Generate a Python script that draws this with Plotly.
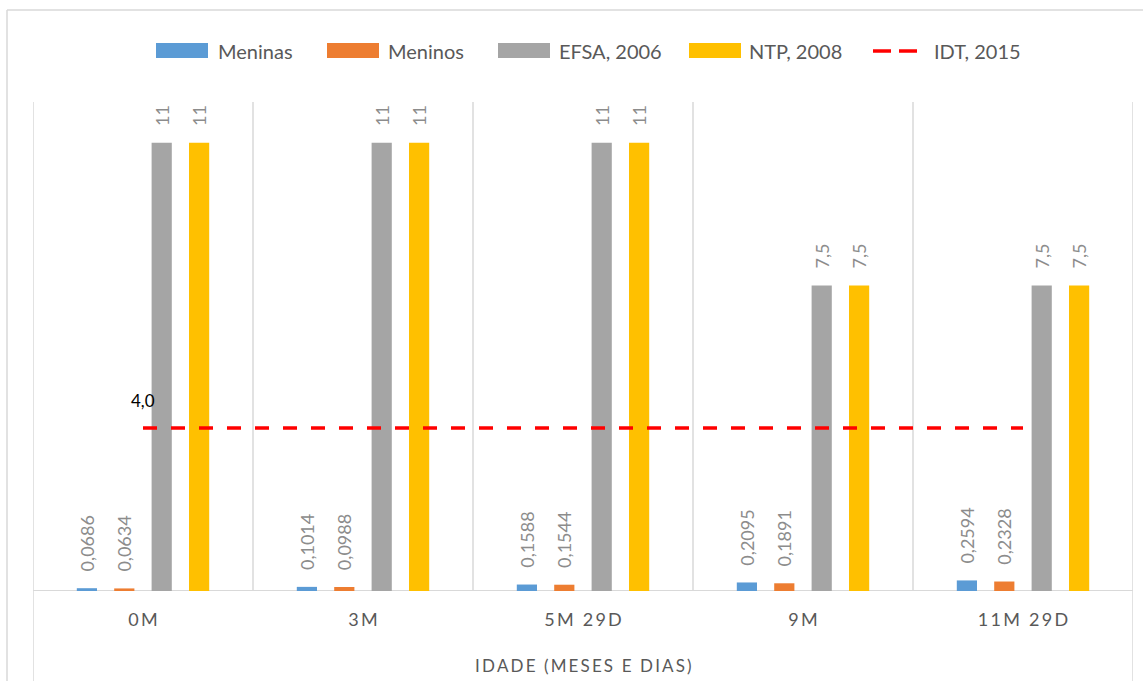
import plotly.graph_objects as go

# Age groups (months and days)
categories = ["0M", "3M", "5M 29D", "9M", "11M 29D"]

# Series values
meninas = [0.0686, 0.1014, 0.1588, 0.2095, 0.2594]
meninos = [0.0634, 0.0988, 0.1544, 0.1891, 0.2328]
efsa_2006 = [11, 11, 11, 7.5, 7.5]
ntp_2008 = [11, 11, 11, 7.5, 7.5]
idt_2015 = [4.0, 4.0, 4.0, 4.0, 4.0]

series_names = ["Meninas", "Meninos", "EFSA, 2006", "NTP, 2008", "IDT, 2015"]
axis_title = "IDADE (MESES E DIAS)"

BLUE, ORANGE, GRAY, GOLD, RED = "#5B9BD5", "#ED7D31", "#A5A5A5", "#FFC000", "#FF0000"
TEXT = "#595959"
LINE = "#D9D9D9"
FONT = "Lato"
THIN = "\u2009"
NBSP = "\u00a0"


def pt_number(v):
    return f"{v:g}".replace(".", ",")


def spaced(s):
    return THIN.join(s)


fig = go.Figure()

for name, vals, color in zip(series_names[:4], [meninas, meninos, efsa_2006, ntp_2008],
                             [BLUE, ORANGE, GRAY, GOLD]):
    fig.add_trace(go.Bar(
        x=categories, y=vals, name=name, marker=dict(color=color, line=dict(width=0)),
        text=[NBSP * 3 + pt_number(v) for v in vals],
        textposition="outside", textangle=-90, constraintext="none", cliponaxis=False,
        textfont=dict(family=FONT, size=18, color="#8C8C8C"),
        showlegend=False,
    ))

fig.add_trace(go.Scatter(
    x=categories, y=idt_2015, name=series_names[4], mode="lines",
    line=dict(color=RED, width=3.5, dash="14px,14px"), showlegend=False,
))

# value label on the first point of the reference line
fig.add_annotation(x=categories[0], y=idt_2015[0], text=pt_number(idt_2015[0]) if idt_2015[0] % 1 else f"{idt_2015[0]:.1f}".replace(".", ","),
                   showarrow=False, yshift=28, font=dict(family=FONT, size=17, color="#000000"))

shapes = []
# category separators
for i in range(1, len(categories)):
    shapes.append(dict(type="line", xref="x", yref="paper", x0=i - 0.5, x1=i - 0.5, y0=0, y1=1,
                       line=dict(color=LINE, width=1.5), layer="below"))
# plot-area edges extending under the axis
for xe in (-0.5, len(categories) - 0.5):
    shapes.append(dict(type="line", xref="x", yref="paper", x0=xe, x1=xe, y0=-0.2, y1=1,
                       line=dict(color=LINE, width=1.5), layer="below"))
# category axis baseline
shapes.append(dict(type="line", xref="x", yref="y", x0=-0.5, x1=len(categories) - 0.5, y0=0, y1=0,
                   line=dict(color=LINE, width=2), layer="below"))
# chart frame
frame_x = -26 / 1100
frame_y = 581 / 489
shapes.append(dict(type="line", xref="paper", yref="paper", x0=frame_x, x1=frame_x, y0=-0.2, y1=frame_y,
                   line=dict(color=LINE, width=1.5)))
shapes.append(dict(type="line", xref="paper", yref="paper", x0=frame_x, x1=1.1, y0=frame_y, y1=frame_y,
                   line=dict(color=LINE, width=1.5)))

# legend drawn in pixel-mapped paper coordinates
def px_x(p):
    return (p - 33) / 1100


def px_y(p):
    return (591 - p) / 489


legend_items = [
    (series_names[0], BLUE, 156, 216),
    (series_names[1], ORANGE, 327, 386),
    (series_names[2], GRAY, 498, 557),
    (series_names[3], GOLD, 689, 747),
    (series_names[4], RED, 873, 932),
]
for name, color, sx, tx in legend_items:
    if color == RED:
        for dx in (0, 26):
            shapes.append(dict(type="line", xref="paper", yref="paper",
                               x0=px_x(sx + dx), x1=px_x(sx + dx + 18), y0=px_y(51), y1=px_y(51),
                               line=dict(color=RED, width=3.5)))
    else:
        shapes.append(dict(type="rect", xref="paper", yref="paper",
                           x0=px_x(sx), x1=px_x(sx + 52), y0=px_y(58), y1=px_y(43),
                           fillcolor=color, line=dict(width=0)))
    fig.add_annotation(xref="paper", yref="paper", x=px_x(tx), y=px_y(51), text=name,
                       xanchor="left", yanchor="middle", showarrow=False,
                       font=dict(family=FONT, size=20, color=TEXT))

fig.add_annotation(xref="paper", yref="paper", x=0.5, y=px_y(665), text=spaced(axis_title),
                   xanchor="center", yanchor="middle", showarrow=False,
                   font=dict(family=FONT, size=17, color=TEXT))

fig.update_layout(
    width=1143, height=681,
    margin=dict(l=33, r=10, t=102, b=90),
    paper_bgcolor="white", plot_bgcolor="white",
    barmode="group", bargap=0.32, bargroupgap=0.46,
    shapes=shapes,
    font=dict(family=FONT, color=TEXT),
)
fig.update_xaxes(
    type="category", range=[-0.5, len(categories) - 0.5],
    tickvals=categories, ticktext=[spaced(c) for c in categories],
    showgrid=False, zeroline=False, showline=False, ticks="",
    tickfont=dict(family=FONT, size=18, color=TEXT), ticklabelstandoff=16,
)
fig.update_yaxes(range=[0, 12], visible=False, showgrid=False, zeroline=False)

fig.write_html("out.html")
